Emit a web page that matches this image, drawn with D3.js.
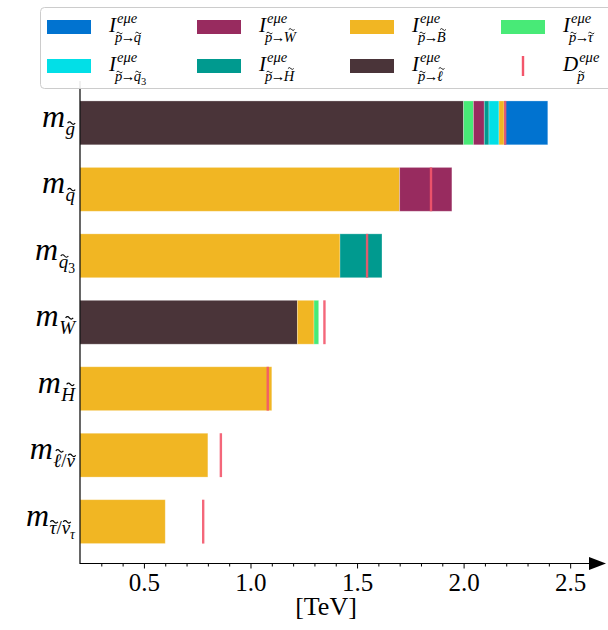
<!DOCTYPE html>
<html>
<head>
<meta charset="utf-8">
<script src="https://cdn.jsdelivr.net/npm/d3@7"></script>
<style>
  body { margin: 0; background: #fff; }
  svg { display: block; }
  text { font-family: "Liberation Serif", "DejaVu Serif", serif; fill: #000; }
</style>
</head>
<body>
<svg id="chart" width="608" height="630"></svg>
<script>
// Mass categories, top to bottom
const categories = ["gluino", "squark", "squark3", "wino", "higgsino", "slepton", "stau"];

// Stacked contributions per category: [series key, contribution in TeV], in stacking order
const gluinoParts   = [["l", 2.00], ["tau", 0.046], ["W", 0.051], ["H", 0.022], ["q3", 0.047], ["B", 0.024], ["q", 0.205]];
const squarkParts   = [["B", 1.70], ["W", 0.245]];
const squark3Parts  = [["B", 1.42], ["H", 0.197]];
const winoParts     = [["l", 1.22], ["B", 0.078], ["tau", 0.022]];
const higgsinoParts = [["B", 1.10]];
const sleptonParts  = [["B", 0.80]];
const stauParts     = [["B", 0.60]];
const stackedParts  = [gluinoParts, squarkParts, squark3Parts, winoParts, higgsinoParts, sleptonParts, stauParts];

// D marker position per category (TeV)
const dValues = [2.195, 1.847, 1.547, 1.347, 1.081, 0.861, 0.778];

// Axis ticks
const xTicks = [0.5, 1.0, 1.5, 2.0, 2.5];
const xTickLabels = ["0.5", "1.0", "1.5", "2.0", "2.5"];
const xMinorTicks = [0.3, 0.4, 0.6, 0.7, 0.8, 0.9, 1.1, 1.2, 1.3, 1.4, 1.6, 1.7, 1.8, 1.9, 2.1, 2.2, 2.3, 2.4, 2.6];

const seriesColors = {
  q: "#0173d0", W: "#982b5f", B: "#f1b623", tau: "#48ea77",
  q3: "#02dfe7", H: "#009a8f", l: "#4a3439", D: "#f3566b"
};

// Math-style subscripts: [text, style, tilde]
// style: i = italic, r = upright, si = second-level italic, sr = second-level upright
const yLabelSubs = [
  [["g", "i", 1]],
  [["q", "i", 1]],
  [["q", "i", 1], ["3", "sr"]],
  [["W", "i", 1]],
  [["H", "i", 1]],
  [["\u2113", "i", 1], ["/", "r"], ["\u03bd", "i", 1]],
  [["\u03c4", "i", 1], ["/", "r"], ["\u03bd", "i", 1], ["\u03c4", "si"]]
];

const arrow = ["\u2192", "r"];
const legendItems = [
  { key: "q",   base: "I", sub: [["p", "i", 1], arrow, ["q", "i", 1]] },
  { key: "q3",  base: "I", sub: [["p", "i", 1], arrow, ["q", "i", 1], ["3", "sr"]] },
  { key: "W",   base: "I", sub: [["p", "i", 1], arrow, ["W", "i", 1]] },
  { key: "H",   base: "I", sub: [["p", "i", 1], arrow, ["H", "i", 1]] },
  { key: "B",   base: "I", sub: [["p", "i", 1], arrow, ["B", "i", 1]] },
  { key: "l",   base: "I", sub: [["p", "i", 1], arrow, ["\u2113", "i", 1]] },
  { key: "tau", base: "I", sub: [["p", "i", 1], arrow, ["\u03c4", "i", 1]] },
  { key: "D",   base: "D", sub: [["p", "i", 1]] }
];
const supText = "e\u03bce";

const svg = d3.select("#chart");

const x = d3.scaleLinear().domain([0.2, 2.64]).range([80, 600]);
const y = d3.scaleLinear().domain([-0.63, 6.63]).range([563.5, 81]);
const barH = 0.66;
const rowPos = i => categories.length - 1 - i;

// bars
const barsG = svg.append("g");
stackedParts.forEach((parts, i) => {
  let start = 0;
  const yc = y(rowPos(i));
  const h = y(0) - y(barH);
  parts.forEach(([key, v]) => {
    const end = start + v;
    const x0 = x(Math.max(start, x.domain()[0]));
    barsG.append("rect")
      .attr("x", x0).attr("y", yc - h / 2)
      .attr("width", x(end) - x0).attr("height", h)
      .attr("fill", seriesColors[key])
      .attr("stroke", "#ffffff").attr("stroke-opacity", 0.35).attr("stroke-width", 0.8);
    start = end;
  });
});

// D markers
categories.forEach((c, i) => {
  const yc = y(rowPos(i));
  const h = y(0) - y(barH);
  barsG.append("line")
    .attr("x1", x(dValues[i])).attr("x2", x(dValues[i]))
    .attr("y1", yc - h / 2).attr("y2", yc + h / 2)
    .attr("stroke", seriesColors.D).attr("stroke-width", 2.4).attr("stroke-opacity", 0.9);
});

// axes
const axisY = y(-0.63);
const axG = svg.append("g").attr("transform", `translate(0,${axisY})`);
axG.call(d3.axisBottom(x).tickValues(xTicks).tickSize(5).tickFormat((d, i) => xTickLabels[i]))
  .call(g => g.select(".domain").remove())
  .attr("font-family", null).attr("font-size", null);
axG.selectAll(".tick text")
  .attr("font-size", 25).attr("dy", 0).attr("y", 27.5)
  .attr("font-family", "Liberation Serif")
  .style("font-family", "\"Liberation Serif\", serif");
axG.append("g").call(d3.axisBottom(x).tickValues(xMinorTicks).tickSize(3).tickFormat(""))
  .call(g => g.select(".domain").remove());
axG.selectAll(".tick line").attr("stroke", "#000").attr("stroke-width", 1);

svg.append("line").attr("x1", 80).attr("x2", 592).attr("y1", axisY).attr("y2", axisY)
  .attr("stroke", "#000").attr("stroke-width", 1.2);
svg.append("path")
  .attr("d", `M589,${axisY - 6.5} L606,${axisY} L589,${axisY + 6.5} Z`)
  .attr("fill", "#000");
svg.append("line").attr("x1", 80).attr("x2", 80).attr("y1", 81).attr("y2", axisY + 0.6)
  .attr("stroke", "#000").attr("stroke-width", 1.2);

svg.append("text").attr("x", 326).attr("y", 615).attr("text-anchor", "middle")
  .attr("font-size", 26).text("[TeV]");

// math label: italic base, superscript and a subscript made of pieces with optional tildes
function mathLabel(parent, px, py, o) {
  const g = parent.append("g");
  const b = g.append("text").attr("x", 0).attr("y", 0)
    .attr("font-size", o.size).attr("font-style", "italic").text(o.base);
  const w = b.node().getComputedTextLength();
  let wSup = 0, wSub = 0;
  if (o.sup) {
    const s = g.append("text").attr("x", w + o.supDx).attr("y", o.supDy)
      .attr("font-size", o.scriptSize).attr("font-style", "italic").text(o.sup);
    wSup = o.supDx + s.node().getComputedTextLength();
  }
  if (o.sub) {
    let xs = w + o.subDx;
    o.sub.forEach(([t, st, tilde]) => {
      const deep = st[0] === "s";
      const fs = deep ? o.scriptSize * 0.72 : o.scriptSize;
      const by = o.subDy + (deep ? o.scriptSize * 0.3 : 0);
      const italic = st.endsWith("i");
      const pad = t === "\u2192" ? -fs * 0.1 : 0;
      const te = g.append("text").attr("x", xs + pad).attr("y", by)
        .attr("font-size", fs).attr("font-style", italic ? "italic" : "normal").text(t);
      const len = te.node().getComputedTextLength();
      if (tilde) {
        const tall = /[A-Z\u2113]/.test(t);
        const cx = xs + len / 2 + (italic ? fs * (tall ? 0.12 : 0.06) : 0);
        const ty = by - fs * (tall ? 0.86 : 0.62);
        const tw = fs * 0.4, ta = fs * 0.13;
        g.append("path")
          .attr("d", `M${cx - tw / 2},${ty} Q${cx - tw / 4},${ty - ta} ${cx},${ty} T${cx + tw / 2},${ty}`)
          .attr("fill", "none").attr("stroke", "#000").attr("stroke-width", Math.max(0.8, fs * 0.06));
      }
      xs += len + 2 * pad;
    });
    wSub = xs;
  }
  const total = Math.max(w, wSup, wSub);
  const tx = o.anchor === "end" ? px - total : px;
  g.attr("transform", `translate(${tx},${py})`);
  return g;
}

// y labels
const yLab = svg.append("g");
categories.forEach((c, i) => {
  mathLabel(yLab, 75, y(rowPos(i)) + 4, {
    base: "m", size: 32, scriptSize: 19, sub: yLabelSubs[i],
    subDx: 0.5, subDy: 8, anchor: "end"
  });
});

// legend
const leg = svg.append("g");
leg.append("rect").attr("x", 40.5).attr("y", 7.5).attr("width", 590).attr("height", 81)
  .attr("rx", 4).attr("fill", "#fff").attr("fill-opacity", 0.9)
  .attr("stroke", "#cccccc").attr("stroke-width", 1);
const colX = [47, 197, 350, 501];
const rowY = [27, 66];
legendItems.forEach((it, k) => {
  const cx = colX[Math.floor(k / 2)], cy = rowY[k % 2];
  if (it.key === "D") {
    leg.append("line").attr("x1", cx + 22).attr("x2", cx + 22)
      .attr("y1", cy - 10).attr("y2", cy + 10)
      .attr("stroke", seriesColors.D).attr("stroke-width", 2.4);
  } else {
    leg.append("rect").attr("x", cx).attr("y", cy - 7).attr("width", 44).attr("height", 14)
      .attr("fill", seriesColors[it.key]);
  }
  mathLabel(leg, cx + 62, cy + 5, {
    base: it.base, size: 21, scriptSize: 14.5, sup: supText, sub: it.sub,
    supDx: 1, supDy: -9, subDx: -1, subDy: 10, anchor: "start"
  });
});
</script>
</body>
</html>
